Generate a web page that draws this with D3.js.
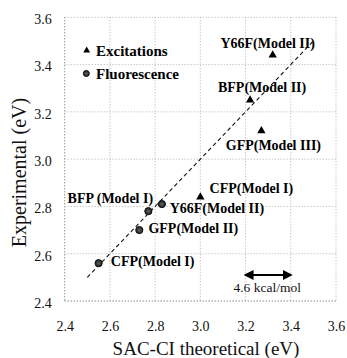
<!DOCTYPE html>
<html>
<head>
<meta charset="utf-8">
<script src="https://cdn.jsdelivr.net/npm/d3@7"></script>
<style>
  html, body { margin: 0; padding: 0; background: #fff; }
  svg { display: block; }
</style>
</head>
<body>
<svg id="chart" width="347" height="358"></svg>
<script>
// Excitation energies (triangles)
const excNames = ["Y66F(Model II)", "BFP(Model II)", "GFP(Model III)", "CFP(Model I)"];
const excTheory = [3.32, 3.22, 3.27, 3.00];
const excExpt = [3.44, 3.25, 3.12, 2.84];

// Fluorescence energies (circles)
const fluNames = ["BFP (Model I)", "Y66F(Model II)", "GFP(Model II)", "CFP(Model I)"];
const fluTheory = [2.77, 2.83, 2.73, 2.55];
const fluExpt = [2.78, 2.81, 2.70, 2.56];

// Axis ticks
const xTicks = [2.4, 2.6, 2.8, 3.0, 3.2, 3.4, 3.6];
const yTicks = [2.4, 2.6, 2.8, 3.0, 3.2, 3.4, 3.6];

// Ideal-agreement line (y = x) and the 0.2 eV scale bar
const diagonal = [2.5, 3.5];
const scaleBar = [3.2, 3.4];
const scaleBarY = 2.51;
const scaleBarLabel = "4.6 kcal/mol";

// Label offsets (px) from each marker, centred text
const excLabelOffsets = [[-5, -7.5], [12, -8], [12, 19], [51, -4]];
const fluLabelOffsets = [[-38, -8.5], [55, 8.5], [54, 3], [54, 2.5]];

const SERIF = "'Liberation Serif', 'Times New Roman', Times, serif";

const svg = d3.select("#chart").attr("font-family", SERIF);
const plotL = 64.7, plotR = 336, plotT = 17.3, plotB = 301;

const x = d3.scaleLinear().domain([2.4, 3.6]).range([plotL, plotR]);
const y = d3.scaleLinear().domain([2.4, 3.6]).range([plotB, plotT]);

// Grid (dotted)
const grid = svg.append("g");
grid.selectAll("line.vx").data(xTicks).join("line")
  .attr("x1", d => x(d)).attr("x2", d => x(d))
  .attr("y1", plotT).attr("y2", plotB)
  .attr("stroke", (d, i) => i === 0 ? "#666" : "#b0b0b0")
  .attr("stroke-width", 1)
  .attr("stroke-dasharray", "1,2");
grid.selectAll("line.hy").data(yTicks).join("line")
  .attr("x1", plotL).attr("x2", plotR)
  .attr("y1", d => y(d)).attr("y2", d => y(d))
  .attr("stroke", (d, i) => i === 0 ? "#555" : "#b0b0b0")
  .attr("stroke-width", 1)
  .attr("stroke-dasharray", "1,2");

// Axes with tick labels only
const xAxis = d3.axisBottom(x).tickValues(xTicks).tickFormat(d3.format(".1f")).tickSize(0).tickPadding(0);
const gx = svg.append("g").attr("transform", `translate(0,${plotB})`).call(xAxis)
  .attr("font-family", SERIF).attr("font-size", 14);
gx.select(".domain").remove();
gx.selectAll("text")
  .attr("y", 30).attr("dy", null)
  .attr("fill", "#111");

const yAxis = d3.axisLeft(y).tickValues(yTicks).tickFormat(d3.format(".1f")).tickSize(0).tickPadding(0);
const gy = svg.append("g").attr("transform", `translate(${plotL},0)`).call(yAxis)
  .attr("font-family", SERIF).attr("font-size", 14);
gy.select(".domain").remove();
gy.selectAll("text")
  .attr("x", -13).attr("dy", "0.45em")
  .attr("fill", "#111");

// Axis titles
svg.append("text")
  .attr("x", 206).attr("y", 355)
  .attr("text-anchor", "middle")
  .attr("font-size", 19)
  .attr("fill", "#111")
  .text("SAC-CI theoretical (eV)");

svg.append("text")
  .attr("transform", "translate(26,172.5) rotate(-90)")
  .attr("text-anchor", "middle")
  .attr("font-size", 20)
  .attr("fill", "#111")
  .text("Experimental (eV)");

// Diagonal dashed line
svg.append("line")
  .attr("x1", x(diagonal[0])).attr("y1", y(diagonal[0]))
  .attr("x2", x(diagonal[1])).attr("y2", y(diagonal[1]))
  .attr("stroke", "#111").attr("stroke-width", 1.1)
  .attr("stroke-dasharray", "4,3");

// Markers
const tri = d3.symbol().type(d3.symbolTriangle).size(30);
const exc = excNames.map((n, i) => ({ name: n, tx: excTheory[i], ex: excExpt[i], off: excLabelOffsets[i] }));
const flu = fluNames.map((n, i) => ({ name: n, tx: fluTheory[i], ex: fluExpt[i], off: fluLabelOffsets[i] }));

const defs = svg.append("defs");
const grad = defs.append("radialGradient").attr("id", "dot");
grad.append("stop").attr("offset", "0%").attr("stop-color", "#666");
grad.append("stop").attr("offset", "100%").attr("stop-color", "#1a1a1a");

svg.append("g").selectAll("path").data(exc).join("path")
  .attr("transform", d => `translate(${x(d.tx)},${y(d.ex)})`)
  .attr("d", tri).attr("fill", "#000");

svg.append("g").selectAll("circle").data(flu).join("circle")
  .attr("cx", d => x(d.tx)).attr("cy", d => y(d.ex))
  .attr("r", 3.6).attr("fill", "url(#dot)")
  .attr("stroke", "#111").attr("stroke-width", 1);

// Point labels
const labels = svg.append("g")
  .attr("font-family", SERIF)
  .attr("font-size", 14).attr("font-weight", "bold")
  .attr("text-anchor", "middle").attr("fill", "#000");
labels.selectAll("text.e").data(exc).join("text")
  .attr("x", d => x(d.tx) + d.off[0]).attr("y", d => y(d.ex) + d.off[1])
  .text(d => d.name);
labels.selectAll("text.f").data(flu).join("text")
  .attr("x", d => x(d.tx) + d.off[0]).attr("y", d => y(d.ex) + d.off[1])
  .text(d => d.name);

// Legend
const legend = svg.append("g").attr("font-family", SERIF)
  .attr("font-size", 15).attr("font-weight", "bold");
legend.append("path")
  .attr("transform", "translate(86.7,50.5)")
  .attr("d", d3.symbol().type(d3.symbolTriangle).size(20))
  .attr("fill", "#000");
legend.append("text").attr("x", 96).attr("y", 55.5).text("Excitations");
legend.append("circle").attr("cx", 86.3).attr("cy", 73.5).attr("r", 3)
  .attr("fill", "url(#dot)").attr("stroke", "#111").attr("stroke-width", 1);
legend.append("text").attr("x", 96).attr("y", 78.5).text("Fluorescence");

// Scale bar: 0.2 eV = 4.6 kcal/mol
const ay = y(scaleBarY);
defs.append("marker").attr("id", "ah").attr("viewBox", "0 0 10 10")
  .attr("refX", 8).attr("refY", 5).attr("markerWidth", 5).attr("markerHeight", 5)
  .attr("orient", "auto-start-reverse")
  .append("path").attr("d", "M0,0 L10,5 L0,10 Z").attr("fill", "#000");
svg.append("line")
  .attr("x1", x(scaleBar[0])).attr("x2", x(scaleBar[1]))
  .attr("y1", ay).attr("y2", ay)
  .attr("stroke", "#000").attr("stroke-width", 2)
  .attr("marker-start", "url(#ah)").attr("marker-end", "url(#ah)");
svg.append("text")
  .attr("x", (x(scaleBar[0]) + x(scaleBar[1])) / 2 - 1).attr("y", ay + 17)
  .attr("text-anchor", "middle").attr("font-size", 13.5).attr("fill", "#111")
  .text(scaleBarLabel);
</script>
</body>
</html>
